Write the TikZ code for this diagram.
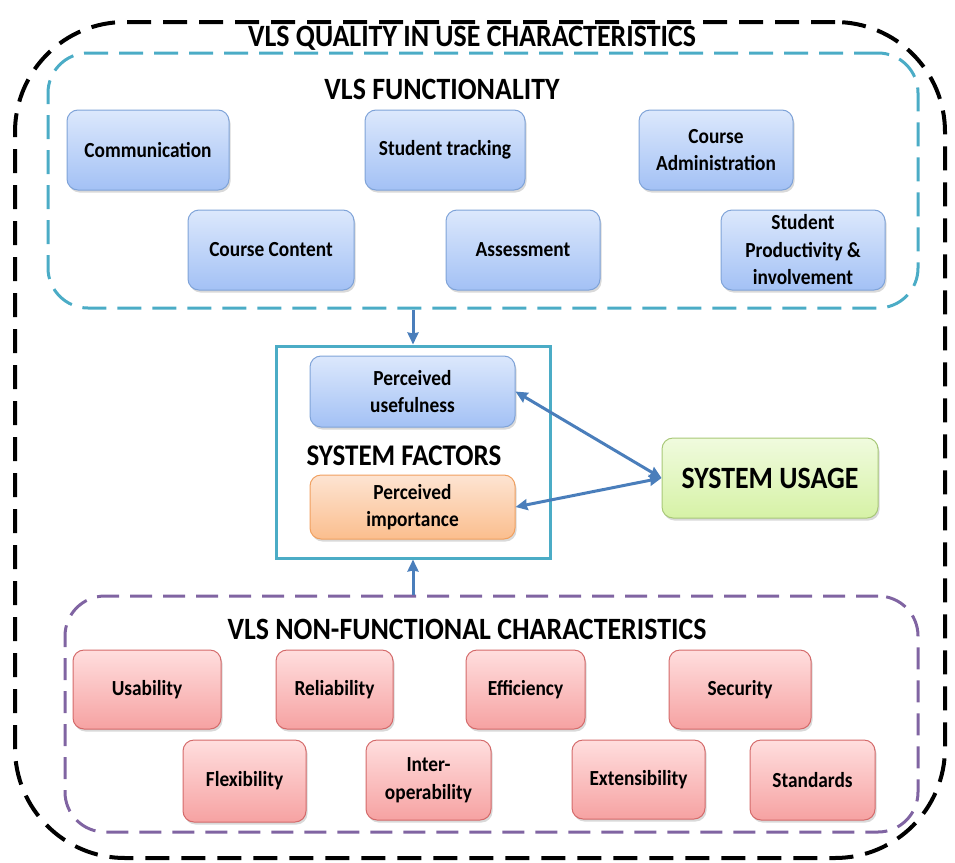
\documentclass[tikz,border=0pt]{standalone}
\usepackage{fontspec}
\setmainfont{Carlito}[FakeStretch=0.9]
\usetikzlibrary{shadows,arrows.meta}
\definecolor{bluetop}{HTML}{DCE8FC}
\definecolor{bluebot}{HTML}{A3C1F5}
\definecolor{bluedraw}{HTML}{7FA3D8}
\definecolor{redtop}{HTML}{FFDEDE}
\definecolor{redbot}{HTML}{F6A2A2}
\definecolor{reddraw}{HTML}{D46A6A}
\definecolor{orgtop}{HTML}{FDE4D2}
\definecolor{orgbot}{HTML}{FBBE8E}
\definecolor{orgdraw}{HTML}{F0A060}
\definecolor{grntop}{HTML}{F0FBDE}
\definecolor{grnbot}{HTML}{D6F2A6}
\definecolor{grndraw}{HTML}{A8C878}
\definecolor{teal}{HTML}{4BACC6}
\definecolor{purp}{HTML}{8064A2}
\definecolor{arrowblue}{HTML}{4A7EBB}
\tikzset{
  boxbase/.style={rounded corners=11pt, line width=1pt, align=center, inner sep=0pt,
    font=\bfseries\fontsize{21.5}{27.5}\selectfont,
    drop shadow={opacity=0.3, shadow xshift=1.5pt, shadow yshift=-2.5pt}},
  bluebox/.style={boxbase, draw=bluedraw, top color=bluetop, bottom color=bluebot},
  redbox/.style={boxbase, draw=reddraw, top color=redtop, bottom color=redbot},
  orgbox/.style={boxbase, draw=orgdraw, top color=orgtop, bottom color=orgbot},
  grnbox/.style={boxbase, draw=grndraw, top color=grntop, bottom color=grnbot},
  headline/.style={font=\bfseries\fontsize{31}{34}\selectfont, inner sep=0pt},
  conn/.style={draw=arrowblue, line width=3pt, {Stealth[length=12pt,width=11pt,inset=1pt]}-{Stealth[length=12pt,width=11pt,inset=1pt]}},
  conn1/.style={draw=arrowblue, line width=3pt, -{Stealth[length=12pt,width=11pt,inset=1pt]}},
}
\begin{document}
\begin{tikzpicture}[x=1pt,y=-1pt]
\useasboundingbox (0,0) rectangle (955,862);
% containers
\node[draw=black, line width=4pt, dash pattern=on 24pt off 12pt, rounded corners=110pt, minimum width=930, minimum height=836, inner sep=0pt] (outer) at (480,440) {};
\node[draw=teal, line width=3pt, dash pattern=on 24pt off 11pt, rounded corners=40pt, minimum width=870, minimum height=255, inner sep=0pt] (func) at (483,180.5) {};
\node[draw=purp, line width=3pt, dash pattern=on 22pt off 11pt, rounded corners=40pt, minimum width=853, minimum height=236, inner sep=0pt] (nonf) at (491.5,714) {};
\node[draw=teal, line width=3pt, minimum width=274, minimum height=212, inner sep=0pt] (sf) at (413,452) {};
% headings
\node[headline] (t1) at (472,38) {VLS QUALITY IN USE CHARACTERISTICS};
\node[headline] (t2) at (442,89) {VLS FUNCTIONALITY};
\node[headline] (t3) at (467,629) {VLS NON-FUNCTIONAL CHARACTERISTICS};
\node[headline, font=\bfseries\fontsize{30}{33}\selectfont] (t4) at (404,456) {SYSTEM FACTORS};
% functionality
\node[bluebox, minimum width=162, minimum height=80] (comm) at (148,150) {Communication};
\node[bluebox, minimum width=160, minimum height=80] (stu) at (445,150) {Student tracking};
\node[bluebox, minimum width=154, minimum height=80] (cadm) at (716,150) {Course\\Administration};
\node[bluebox, minimum width=166, minimum height=80] (ccont) at (271,250) {Course Content};
\node[bluebox, minimum width=154, minimum height=80] (assess) at (523,250) {Assessment};
\node[bluebox, minimum width=164, minimum height=80] (sprod) at (803,250) {Student\\Productivity \&\\involvement};
% system factors
\node[bluebox, minimum width=205, minimum height=71] (pu) at (412.5,391.5) {Perceived\\usefulness};
\node[orgbox, minimum width=205, minimum height=64] (pi) at (412.5,507) {Perceived\\importance};
\node[grnbox, minimum width=216, minimum height=80, font=\bfseries\fontsize{31}{34}\selectfont] (su) at (770,478) {SYSTEM USAGE};
% non-functional
\node[redbox, minimum width=148, minimum height=79] (usab) at (147,689.5) {Usability};
\node[redbox, minimum width=117, minimum height=79] (relia) at (334.5,689.5) {Reliability};
\node[redbox, minimum width=119, minimum height=79] (effic) at (525.5,689.5) {Efficiency};
\node[redbox, minimum width=142, minimum height=79] (secur) at (740,689.5) {Security};
\node[redbox, minimum width=123, minimum height=82] (flex) at (244.5,781) {Flexibility};
\node[redbox, minimum width=125, minimum height=80] (inter) at (428.5,780) {Inter-\\operability};
\node[redbox, minimum width=133, minimum height=79] (ext) at (638.5,779.5) {Extensibility};
\node[redbox, minimum width=125, minimum height=80] (std) at (812.5,780) {Standards};
% connectors
\draw[conn1] (func.south -| sf.north) -- (sf.north);
\draw[conn1] (nonf.north -| sf.south) -- (sf.south);
\draw[conn] (pu.east) -- (su.west);
\draw[conn] (pi.east) -- (su.west);
\end{tikzpicture}
\end{document}
